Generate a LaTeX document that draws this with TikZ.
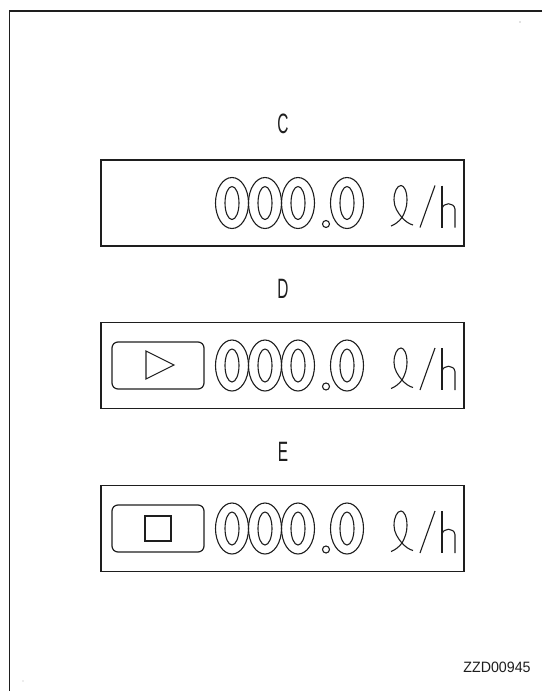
\documentclass[tikz,border=0pt]{standalone}
\usepackage{fontspec}
\setmainfont{Liberation Sans}
\usetikzlibrary{positioning}
\definecolor{inkcolor}{RGB}{30,30,30}

% readout "000.0 l/h", #1 = centre line of the panel
\newcommand{\flowreadout}[1]{%
  \begin{scope}[shift={(0,#1)}, glyph]
    % digits
    \draw (232,0) ellipse [x radius=16.5, y radius=25.5];
    \draw (232,0) ellipse [x radius=7, y radius=16.5];
    \draw (265,0) ellipse [x radius=16.5, y radius=25.5];
    \draw (265,0) ellipse [x radius=7, y radius=16.5];
    \draw (298,0) ellipse [x radius=16.5, y radius=25.5];
    \draw (298,0) ellipse [x radius=7, y radius=16.5];
    \draw (326,21) circle [radius=3.5];
    \draw (347,0) ellipse [x radius=16.5, y radius=25.5];
    \draw (347,0) ellipse [x radius=7, y radius=16.5];
    % unit l/h
    \draw (391,23) .. controls (395,21.5) and (399,18.5) .. (402,14.5)
      .. controls (405,9) and (407,4) .. (407,-3)
      .. controls (407,-12) and (404,-17.5) .. (401,-17.5)
      .. controls (397,-17.5) and (394,-11) .. (394,-3)
      .. controls (394,4) and (398,10) .. (402,14.5)
      .. controls (405,18) and (409,21) .. (413,22);
    \draw (420,24.5) -- (435,-17.5);
    \draw (442,-17.5) -- (442,24.5);
    \draw (442,6) .. controls (443,-1) and (454,-1) .. (455,6) -- (455,24.5);
  \end{scope}}

\tikzset{
  panel/.style={draw=inkcolor, line width=1.5pt, minimum width=363pt,
    minimum height=86pt, inner sep=0pt},
  keybox/.style={draw=inkcolor, line width=1.2pt, rounded corners=6pt,
    minimum width=92pt, minimum height=47pt, inner sep=0pt},
  glyph/.style={draw=inkcolor, line width=1.1pt},
  caption/.style={inner sep=0pt, text=inkcolor,
    font=\fontsize{28}{28}\selectfont}
}

\begin{document}
\begin{tikzpicture}[x=1pt, y=-1pt]
  \useasboundingbox (0,0) rectangle (542,691);
  % frame of the sheet
  \draw[inkcolor, line width=1.6pt] (542,11) -- (9.5,11) -- (9.5,691);
  \fill[gray] (520,22) circle (0.6);
  \fill[gray!60] (23,681) circle (0.6);
  % panel C
  \node[caption] (labC) at (283,124) {\scalebox{0.55}[1]{C}};
  \node[panel] (panC) at (282.5,203) {};
  \flowreadout{203}
  % panel D
  \node[caption] (labD) at (283,289) {\scalebox{0.55}[1]{D}};
  \node[panel] (panD) at (282.5,365.5) {};
  \node[keybox] (keyD) at (158,365.5) {};
  \draw[glyph] (146,351) -- (146,379) -- (174,365) -- cycle;
  \flowreadout{365.5}
  % panel E
  \node[caption] (labE) at (283,452) {\scalebox{0.55}[1]{E}};
  \node[panel] (panE) at (282.5,528.5) {};
  \node[keybox] (keyE) at (158,528.5) {};
  \draw[glyph] (145,516) rectangle (171,541);
  \flowreadout{528.5}
  % drawing code
  \node[inner sep=0pt, text=inkcolor, font=\fontsize{15}{15}\selectfont]
    (code) at (497,667) {\scalebox{0.95}[1]{ZZD00945}};
\end{tikzpicture}
\end{document}
